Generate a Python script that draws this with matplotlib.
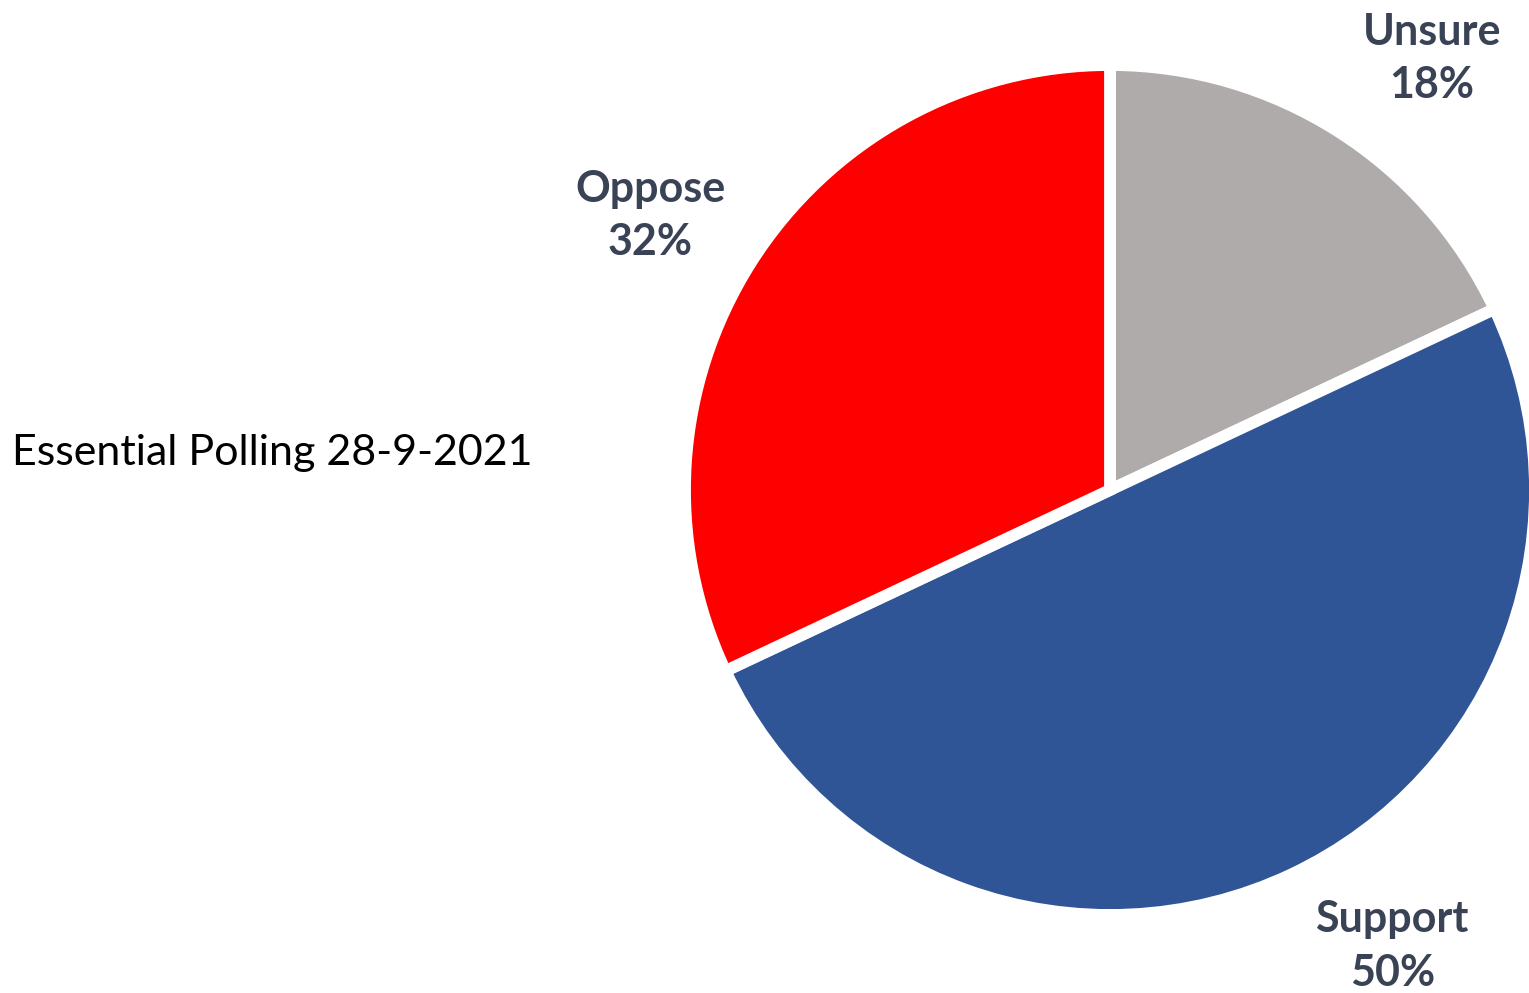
import matplotlib
matplotlib.use('Agg')
import matplotlib.pyplot as plt

# 資料
categories = ['Unsure', 'Support', 'Oppose']
values = [18, 50, 32]
colors = ['#AFABAB', '#2F5597', '#FF0000']
source_note = 'Essential Polling 28-9-2021'

plt.rcParams['font.family'] = ['Lato', 'DejaVu Sans']

W, H = 1529, 993
fig = plt.figure(figsize=(W / 100, H / 100), dpi=100)

# 圓心與半徑（像素）
cx, cy, r = 1110, 490, 425
ax = fig.add_axes([(cx - r) / W, (H - cy - r) / H, 2 * r / W, 2 * r / H])

ax.pie(values, colors=colors, startangle=90, counterclock=False, radius=1.0,
       wedgeprops=dict(edgecolor='white', linewidth=8.5))
# pie 會重設範圍，之後再設定
ax.set_xlim(-1, 1)
ax.set_ylim(-1, 1)
ax.set_aspect('equal')
ax.axis('off')

# 標籤位置（資料座標）
label_pos = {'Unsure': (0.758, 1.016), 'Oppose': (-1.082, 0.645), 'Support': (0.664, -1.073)}
for cat, val in zip(categories, values):
    x, y = label_pos[cat]
    ax.text(x, y, f'{cat}\n{val}%', ha='center', va='center', fontsize=31,
            fontweight='bold', color='#3A4256', linespacing=1.4, clip_on=False)

fig.text(12 / W, 1 - 453 / H, source_note, ha='left', va='center', fontsize=31, color='black')

fig.savefig('out.png', dpi=100)
